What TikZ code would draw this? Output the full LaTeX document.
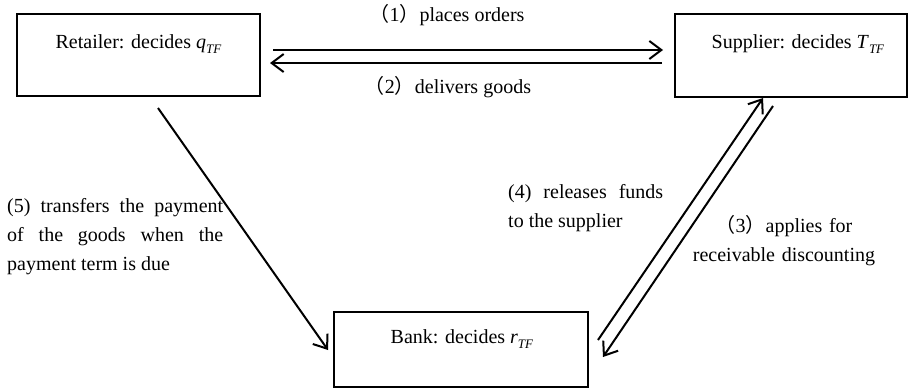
\documentclass[tikz,border=0pt]{standalone}
\usepackage{fontspec}
\setmainfont{Liberation Serif}
\newfontfamily\cjk{Noto Sans CJK SC}
\usetikzlibrary{arrows.meta}
\newcommand{\fp}[1]{{\cjk （}#1{\cjk ）}}
\newcommand{\sbx}[1]{\raisebox{-0.28em}{\fontsize{13}{13}\selectfont\textit{#1}}}
\begin{document}
\begin{tikzpicture}[x=1pt,y=-1pt,
  box/.style={draw,line width=2pt,minimum width=#1,inner sep=0pt},
  txt/.style={font=\fontsize{20}{29}\selectfont,inner sep=0pt},
  arr/.style={line width=2pt,-{Straight Barb[length=12pt,width=18pt,line width=2pt]}}]
\useasboundingbox (0,0) rectangle (909,389);
% boxes
\node[box=243pt,minimum height=82pt] (ret) at (138.5,55) {};
\node[box=232pt,minimum height=83pt] (sup) at (791,55.5) {};
\node[box=254pt,minimum height=75pt] (bank) at (460.5,349.5) {};
% box texts
\node[txt,anchor=base] (rett) at (138.5,48) {Retailer: decides \textit{q}\sbx{TF}};
\node[txt,anchor=base] (supt) at (798,48) {Supplier: decides \textit{T}\sbx{TF}};
\node[txt,anchor=base] (bankt) at (462,343) {Bank: decides \textit{r}\sbx{TF}};
% arrow end points
\coordinate (a1s) at (273,50); \coordinate (a1e) at (663,50);
\coordinate (a2s) at (662,63); \coordinate (a2e) at (270,63);
\coordinate (a5s) at (158,108); \coordinate (a5e) at (328,350);
\coordinate (a4s) at (598,340); \coordinate (a4e) at (763,98);
\coordinate (a3s) at (773,106); \coordinate (a3e) at (603,357);
\draw[arr] (a1s) -- (a1e);
\draw[arr] (a2s) -- (a2e);
\draw[arr] (a5s) -- (a5e);
\draw[arr] (a4s) -- (a4e);
\draw[arr] (a3s) -- (a3e);
% labels
\node[txt,anchor=base] (l1) at (447,21) {\fp{1}places orders};
\node[txt,anchor=base] (l2) at (448,93) {\fp{2}delivers goods};
\node[txt,anchor=base west,text width=155pt,align=justify] (l4) at (508,198) {\hyphenpenalty=10000 (4) releases funds\linebreak to the supplier};
\node[txt,anchor=base,text width=200pt,align=center] (l3) at (784,232) {\fp{3}applies for\\receivable discounting};
\node[txt,anchor=base west,text width=216pt,align=justify] (l5) at (7,212) {\hyphenpenalty=10000 (5) transfers the payment\linebreak of the goods when the\linebreak payment term is due};
\end{tikzpicture}
\end{document}
